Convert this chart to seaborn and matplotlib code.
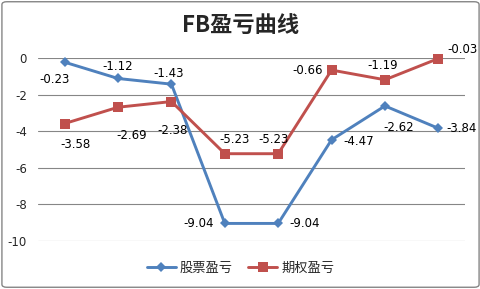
import matplotlib
matplotlib.use("Agg")
import matplotlib.pyplot as plt
import seaborn as sns
import pandas as pd
from matplotlib.patches import FancyBboxPatch
from matplotlib.lines import Line2D

sns.set_theme(style="white")
plt.rcParams['font.family'] = ['Noto Sans CJK SC', 'DejaVu Sans']

categories = [1, 2, 3, 4, 5, 6, 7, 8]
stock = [-0.23, -1.12, -1.43, -9.04, -9.04, -4.47, -2.62, -3.84]
option = [-3.58, -2.69, -2.38, -5.23, -5.23, -0.66, -1.19, -0.03]
series_names = ["股票盈亏", "期权盈亏"]
title = "FB盈亏曲线"
yticks = [0, -2, -4, -6, -8, -10]

# label offsets in pixels (dx, dy) – positions only
stock_off = [(-10, -17), (0, 12), (-3, 11), (-26, 0), (26, 0), (27, -2), (14, -22), (23, 0)]
option_off = [(11, -21), (14, -28), (1, -29), (10, 14), (-5, 14), (-24, 0), (-2, 14), (24, 9)]

df = pd.DataFrame({
    "x": categories * 2,
    "y": stock + option,
    "series": [series_names[0]] * len(stock) + [series_names[1]] * len(option),
})

blue = "#4F81BD"
red = "#C0504D"

fig = plt.figure(figsize=(4.81, 2.89), dpi=100)
ax = fig.add_axes([38 / 481, (289 - 241) / 289, (465 - 38) / 481, (241 - 58) / 289])

sns.lineplot(data=df, x="x", y="y", hue="series", style="series",
             palette={series_names[0]: blue, series_names[1]: red},
             markers={series_names[0]: "D", series_names[1]: "s"},
             dashes=False, linewidth=2.1, ax=ax, clip_on=False, legend=False)
lines = ax.get_lines()
lines[0].set_markersize(5)
lines[1].set_markersize(7.5)
for ln in lines:
    ln.set_markeredgewidth(0)
    ln.set_zorder(3)

for xs, ys, offs in [(categories, stock, stock_off), (categories, option, option_off)]:
    for xv, yv, (dx, dy) in zip(xs, ys, offs):
        ax.annotate(f"{yv:.2f}", (xv, yv), xytext=(dx * 0.72, dy * 0.72),
                    textcoords="offset points", ha="center", va="center",
                    fontsize=8.5, color="#000000", family=['DejaVu Sans'])

ax.set_xlim(0.5, 8.5)
ax.set_ylim(-10, 0)
ax.set_yticks(yticks)
ax.set_yticklabels([str(t) for t in yticks], fontsize=8.5, family=['DejaVu Sans'])
ax.set_xticks([])
ax.set_xlabel("")
ax.set_ylabel("")
ax.tick_params(axis="y", length=0, pad=8)
ax.grid(axis="y", color="#868686", linewidth=0.8)
ax.set_axisbelow(True)
for s in ax.spines.values():
    s.set_visible(False)

fig.text(0.5, 1 - 25 / 289, title, ha="center", va="center", fontsize=16, fontweight="bold")

handles = [Line2D([], [], color=blue, marker="D", markersize=5, linewidth=2.1, markeredgewidth=0),
           Line2D([], [], color=red, marker="s", markersize=7.5, linewidth=2.1, markeredgewidth=0)]
fig.legend(handles, series_names, loc="center", bbox_to_anchor=(0.5, 1 - 268 / 289),
           ncol=2, frameon=False, fontsize=9.5, handlelength=2.2, columnspacing=1.2,
           handletextpad=0.3)

border = FancyBboxPatch((0.004, 0.006), 0.992, 0.988, boxstyle="round,pad=0,rounding_size=0.01",
                        transform=fig.transFigure, fill=False, edgecolor="#868686", linewidth=1.0)
fig.patches.append(border)

fig.savefig("out.png", dpi=100)
